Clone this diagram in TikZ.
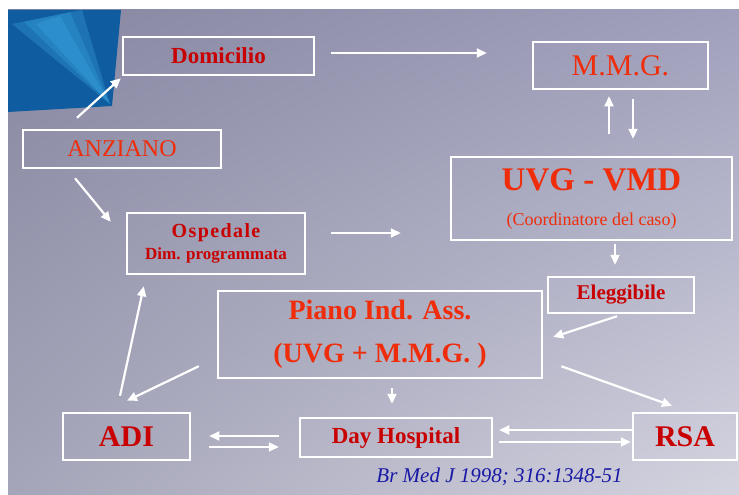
\documentclass[tikz,border=0pt]{standalone}
\usepackage{fontspec}
\setmainfont{Liberation Serif}
\usepackage{tikz}
\usetikzlibrary{arrows.meta,shapes,shadings}

\definecolor{dkred}{RGB}{200,0,0}
\definecolor{orred}{RGB}{240,45,10}
\definecolor{bgul}{RGB}{135,135,162}
\definecolor{bgur}{RGB}{160,160,188}
\definecolor{bgll}{RGB}{165,165,185}
\definecolor{bglr}{RGB}{212,212,224}
\definecolor{bluedk}{RGB}{16,92,160}
\definecolor{bluelt}{RGB}{60,170,228}
\definecolor{citeblue}{RGB}{25,25,165}
\newcommand{\fsz}[1]{\fontsize{#1}{#1}\selectfont}

\begin{document}
\begin{tikzpicture}[x=1pt,y=-1pt]
        \useasboundingbox (0,0) rectangle (739,495);
        \fill[white] (0,0) rectangle (739,495);
        \shade[upper left=bgul,upper right=bgur,lower left=bgll,lower right=bglr] (8,10) rectangle (739,495);
        % blue corner with its light streak
        \fill[bluedk] (8,10) -- (121,10) -- (112,106) -- (8,112) -- cycle;
        \foreach \a/\b/\c/\d in {12/24/82/10, 24/22/70/12, 36/24/60/16}
          \fill[bluelt,opacity=0.3] (110,104) -- (\a,\b) -- (\c,\d) -- cycle;
        \begin{scope}[every node/.style={draw=white,line width=2.5pt,inner sep=0pt,align=center}]
          \node[minimum width=191pt,minimum height=38pt,text=dkred,font={\bfseries\fsz{23}}] (dom) at (218.5,56) {Domicilio};
          \node[minimum width=198pt,minimum height=38pt,text=orred,font={\fsz{24}}] (anz) at (122,149) {ANZIANO};
          \node[minimum width=178pt,minimum height=61pt,text=dkred,font={\bfseries\fsz{17}}] (osp) at (216,243.5)
            {{\fsz{20}\addfontfeatures{LetterSpace=7}Ospedale}\\[5pt]Dim. programmata};
          \node[minimum width=175pt,minimum height=47pt,text=orred,font={\fsz{30}}] (mmg) at (620.5,65.5) {M.M.G.};
          \node[minimum width=281pt,minimum height=83pt,text=orred,font={\fsz{18}}] (uvg) at (591.5,198.5)
            {{\bfseries\fsz{33}UVG - VMD}\\[17pt](Coordinatore del caso)};
          \node[minimum width=146pt,minimum height=36pt,text=dkred,font={\bfseries\fsz{21}}] (ele) at (621,295) {Eleggibile};
          \node[minimum width=324pt,minimum height=87pt,text=orred,font={\bfseries\fsz{28}}] (pia) at (380,334.5)
            {Piano Ind. Ass.\\[15pt](UVG + M.M.G. )};
          \node[minimum width=127pt,minimum height=47pt,text=dkred,font={\bfseries\fsz{30}}] (adi) at (126.5,436.5) {ADI};
          \node[minimum width=192pt,minimum height=39pt,text=dkred,font={\bfseries\fsz{23}}] (day) at (396,437.5) {Day Hospital};
          \node[minimum width=104pt,minimum height=47pt,text=dkred,font={\bfseries\fsz{30}}] (rsa) at (685,436.5) {RSA};
        \end{scope}
        \begin{scope}[every edge/.style={draw=white,line width=2.2pt,-{Triangle[length=10pt,width=9pt]}}]
          \path ([shift={(-45,-11)}]anz.north) edge ([shift={(-1,2)}]dom.south west);
          \path ([shift={(-47,9)}]anz.south) edge ([shift={(-15,10)}]osp.north west);
          \path ([shift={(16,-3)}]dom.east) edge ([shift={(-45,-12.5)}]mmg.west);
          \path ([shift={(17.5,-22)}]uvg.north) edge ([shift={(-11.5,6)}]mmg.south);
          \path ([shift={(12.5,9)}]mmg.south) edge ([shift={(41.5,-17)}]uvg.north);
          \path ([shift={(25,-10.5)}]osp.east) edge ([shift={(-49,34.5)}]uvg.west);
          \path ([shift={(23.5,3)}]uvg.south) edge ([shift={(-6,-11)}]ele.north);
          \path ([shift={(-4,2)}]ele.south) edge ([shift={(10,2.5)}]pia.east);
          \path ([shift={(-18,-13)}]pia.south west) edge ([shift={(0.5,-11)}]adi.north);
          \path ([shift={(-6.5,-16)}]adi.north) edge ([shift={(18,11)}]osp.south west);
          \path ([shift={(12,9)}]pia.south) edge ([shift={(-4,-13)}]day.north);
          \path ([shift={(18,-13)}]pia.south east) edge ([shift={(-13,-6)}]rsa.north);
          \path ([shift={(-20,-1.5)}]day.west) edge ([shift={(18,-0.5)}]adi.east);
          \path ([shift={(18,10.5)}]adi.east) edge ([shift={(-20,9.5)}]day.west);
          \path ([shift={(0,-6.5)}]rsa.west) edge ([shift={(6,-7.5)}]day.east);
          \path ([shift={(6,4.5)}]day.east) edge ([shift={(-1,5.5)}]rsa.west);
        \end{scope}
        \node[text=citeblue,font={\itshape\fsz{21}}] (ref) at (499.5,477) {Br Med J 1998; 316:1348-51};
      \end{tikzpicture}
\end{document}
